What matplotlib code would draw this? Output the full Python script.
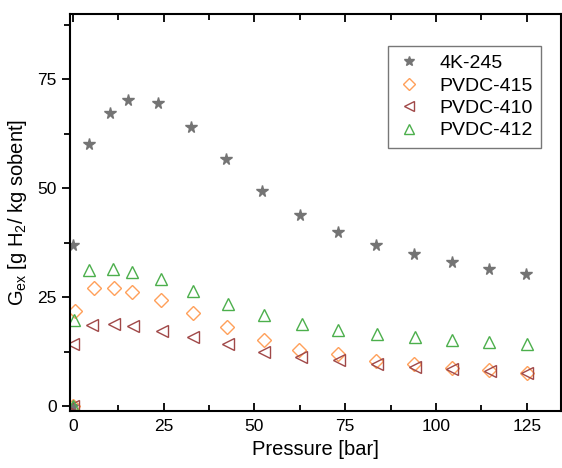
import numpy as np
import matplotlib
matplotlib.use('Agg')
import matplotlib.pyplot as plt
from matplotlib.ticker import MultipleLocator

# pressure points [bar]
p_4k = [0, 0, 4.3, 10.2, 15.1, 23.4, 32.4, 42.3, 52.2, 62.6, 73.1, 83.5, 94.0, 104.4, 114.6, 124.7]
g_4k = [0, 36.9, 60.1, 67.4, 70.2, 69.5, 64.2, 56.7, 49.3, 43.8, 39.9, 36.9, 34.9, 33.0, 31.6, 30.3]

p_415 = [0, 0.5, 5.8, 11.3, 16.4, 24.2, 33.0, 42.5, 52.5, 62.4, 73.0, 83.5, 94.0, 104.3, 114.5, 125.0]
g_415 = [0, 21.8, 27.1, 27.1, 26.2, 24.3, 21.4, 18.1, 15.1, 13.0, 11.9, 10.4, 9.6, 8.8, 8.3, 7.6]

p_410 = [0, 0.0, 5.2, 11.2, 16.5, 24.4, 33.2, 42.6, 52.6, 62.9, 73.3, 83.8, 94.2, 104.4, 114.8, 125.0]
g_410 = [0, 14.2, 18.6, 18.8, 18.4, 17.2, 15.8, 14.2, 12.4, 11.2, 10.6, 9.8, 9.0, 8.5, 8.1, 7.6]

p_412 = [0, 0.3, 4.4, 11.0, 16.2, 24.2, 33.2, 42.8, 52.7, 63.0, 73.1, 83.8, 94.2, 104.4, 114.6, 125.0]
g_412 = [0, 19.7, 31.2, 31.4, 30.7, 29.1, 26.4, 23.4, 20.9, 18.8, 17.6, 16.5, 15.8, 15.1, 14.7, 14.2]

plt.rcParams['font.family'] = ['Liberation Sans', 'DejaVu Sans']

fig = plt.figure(figsize=(5.62, 4.68), dpi=100)
ax = fig.add_axes([0.1246, 0.1218, 0.874, 0.848])

ax.plot(p_4k, g_4k, ls='none', marker='*', ms=8.5, color='#747474', mec='#747474', label='4K-245')
ax.plot(p_415, g_415, ls='none', marker='D', ms=7, mfc='none', mec='#ffa05a', mew=1, label='PVDC-415')
ax.plot(p_410, g_410, ls='none', marker='<', ms=9, mfc='none', mec='#a04848', mew=1, label='PVDC-410')
ax.plot(p_412, g_412, ls='none', marker='^', ms=9, mfc='none', mec='#4caf4c', mew=1, label='PVDC-412')

ax.set_xlim(-0.8, 134.5)
ax.set_ylim(-1.1, 90)
ax.xaxis.set_major_locator(MultipleLocator(25))
ax.xaxis.set_minor_locator(MultipleLocator(12.5))
ax.yaxis.set_major_locator(MultipleLocator(25))
ax.yaxis.set_minor_locator(MultipleLocator(12.5))

for s in ax.spines.values():
    s.set_linewidth(1.5)

ax.tick_params(axis='x', which='both', direction='in', top=True, labelsize=12.5, width=1.3, pad=6)
ax.tick_params(axis='y', which='both', direction='out', labelsize=12.5, width=1.3)
ax.tick_params(which='major', length=6)
ax.tick_params(which='minor', length=4)
ax.tick_params(axis='y', which='both', right=True)

ax.set_xlabel('Pressure [bar]', fontsize=14.5)
ax.set_ylabel(r'G$_{\mathregular{ex}}$ [g H$_{\mathregular{2}}$/ kg sobent]', fontsize=14.5, labelpad=6)

leg = ax.legend(loc='upper right', bbox_to_anchor=(0.979, 0.945), fontsize=14, frameon=True,
                fancybox=False, edgecolor='#555555', handletextpad=0.9, borderpad=0.45,
                labelspacing=0.25, handlelength=1.3, markerscale=0.85)
leg.get_frame().set_linewidth(1.0)

fig.savefig('out.png', dpi=100)
